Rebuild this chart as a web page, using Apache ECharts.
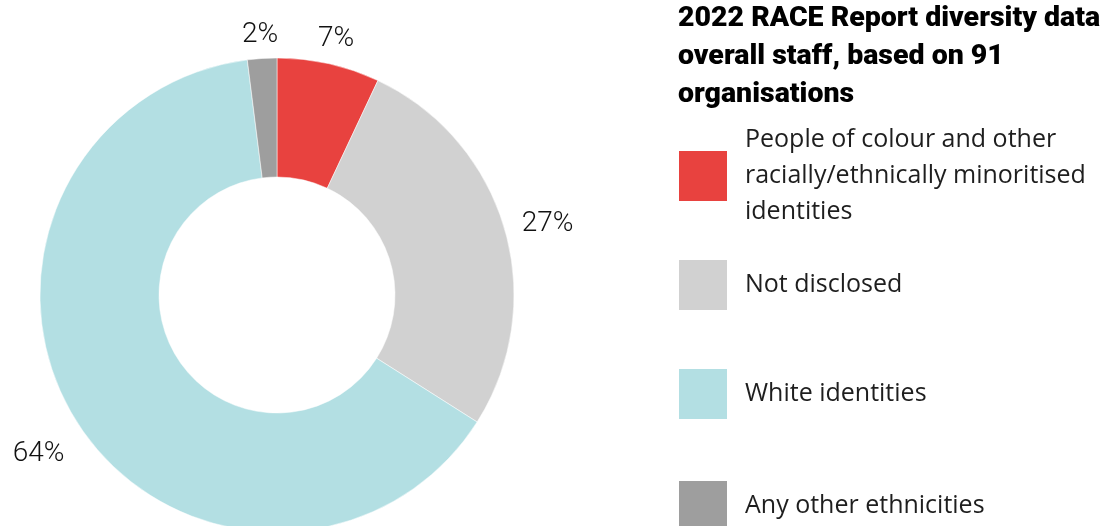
<!DOCTYPE html>
<html><head><meta charset="utf-8">
<script src="https://cdn.jsdelivr.net/npm/echarts@6/dist/echarts.min.js"></script>
<style>html,body{margin:0;padding:0;background:#fff}#c{width:1100px;height:526px}</style>
</head><body><div id="c"></div>
<script>
const categories = ['People of colour and other\nracially/ethnically minoritised\nidentities', 'Not disclosed', 'White identities', 'Any other ethnicities'];
const values = [7, 27, 64, 2];
const colors = ['#e8423f', '#d1d1d1', '#b3dfe3', '#9e9e9e'];
const titleText = '2022 RACE Report diversity data:\noverall staff, based on 91\norganisations';

const legendTops = [122, 258, 367, 479];
const chart = echarts.init(document.getElementById('c'), null, {renderer: 'canvas'});
const labelGap = 16;
chart.setOption({
  animation: false,
  backgroundColor: '#fff',
  color: colors,
  title: {
    text: titleText, left: 678, top: 0, padding: 0,
    textStyle: {fontFamily: 'Roboto', fontWeight: 900, fontSize: 28.5, lineHeight: 38, color: '#000'}
  },
  legend: categories.map((name, i) => ({
    data: [name], left: 677, top: legendTops[i], padding: 0, orient: 'vertical',
    icon: 'rect', itemWidth: 50, itemHeight: 52, selectedMode: false,
    textStyle: {fontFamily: 'Open Sans', fontSize: 25, lineHeight: 36, color: '#1e1e1e', padding: [0, 0, 0, 12]}
  })),
  series: [{
    type: 'pie',
    center: [277, 295],
    radius: [118, 237],
    startAngle: 90,
    clockwise: true,
    avoidLabelOverlap: false,
    itemStyle: {borderColor: '#fff', borderWidth: 0.5},
    emphasis: {disabled: true},
    label: {
      show: true, position: 'outside', formatter: p => p.value + '%',
      fontFamily: 'Roboto', fontWeight: 300, fontSize: 28, color: '#111'
    },
    labelLine: {show: true, length: labelGap, length2: 0, lineStyle: {opacity: 0, width: 0}},
    labelLayout: function (p) {
      const pts = p.labelLinePoints;
      if (!pts) return {};
      let dx = pts[1][0] - pts[0][0], dy = pts[1][1] - pts[0][1];
      const len = Math.hypot(dx, dy) || 1;
      dx /= len; dy /= len;
      const w = p.labelRect.width, h = p.labelRect.height;
      const off = Math.abs(dx) * w / 2 + Math.abs(dy) * h / 2;
      return {x: pts[1][0] + dx * off, y: pts[1][1] + dy * off + 8, align: 'center', verticalAlign: 'middle'};
    },
    data: categories.map((n, i) => ({name: n, value: values[i]}))
  }]
});
</script></body></html>
